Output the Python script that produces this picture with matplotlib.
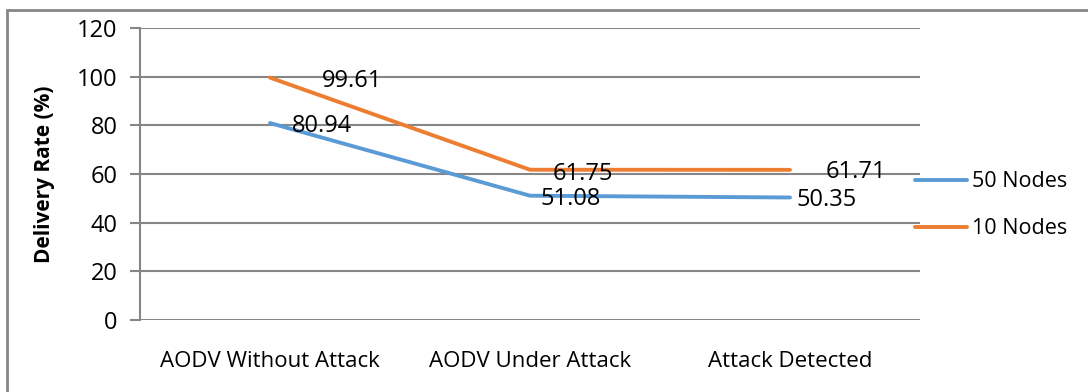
import matplotlib.pyplot as plt
from matplotlib.patches import Rectangle

plt.rcParams['font.family'] = ['Open Sans', 'DejaVu Sans']

# Data set
categories = ['AODV Without Attack', 'AODV Under Attack', 'Attack Detected']
nodes50 = [80.94, 51.08, 50.35]
nodes10 = [99.61, 61.75, 61.71]

blue = '#5b9bd5'
orange = '#ed7d31'
grey = '#868686'

fig = plt.figure(figsize=(10.88, 3.92), dpi=100)
ax = fig.add_axes([140 / 1088, 72 / 392, 780 / 1088, 292 / 392])

x = range(len(categories))
ax.plot(x, nodes50, color=blue, lw=2.8, solid_capstyle='round', label='50 Nodes')
ax.plot(x, nodes10, color=orange, lw=2.8, solid_capstyle='round', label='10 Nodes')

# value labels to the right of each point
offsets50 = [(22, -3), (10, -3), (6, -3)]
offsets10 = [(52, -3), (23, -4), (36, -2)]
for i, v in enumerate(nodes50):
    ax.annotate(f'{v:.2f}', (i, v), xytext=offsets50[i], textcoords='offset pixels',
                ha='left', va='center', fontsize=17)
for i, v in enumerate(nodes10):
    ax.annotate(f'{v:.2f}', (i, v), xytext=offsets10[i], textcoords='offset pixels',
                ha='left', va='center', fontsize=17)

ax.set_xlim(-0.5, 2.5)
ax.set_ylim(0, 120)
ax.set_yticks(range(0, 121, 20))
ax.set_xticks(list(x))
ax.set_xticklabels(categories, fontsize=16)
ax.tick_params(axis='x', length=0, pad=22)
ax.tick_params(axis='y', length=7, width=1.5, color=grey, labelsize=17, pad=9)
ax.grid(axis='y', color=grey, lw=1.5)
ax.set_axisbelow(True)
for side in ['top', 'right', 'bottom']:
    ax.spines[side].set_visible(False)
ax.spines['left'].set_color(grey)
ax.spines['left'].set_linewidth(1.5)
ax.set_ylabel('Delivery Rate (%)', fontsize=15, fontweight='bold', labelpad=16)

leg = ax.legend(loc='center left', bbox_to_anchor=(0.969, 0.393), frameon=False,
                fontsize=15.5, handlelength=2.4, handletextpad=0.25, labelspacing=1.22)

# chart border
fig.patches.append(Rectangle((7 / 1088, -0.02), 1.05, 1 - 10 / 392 + 0.02,
                             transform=fig.transFigure, fill=False,
                             edgecolor=grey, lw=2))

fig.savefig('out.png', dpi=100)
